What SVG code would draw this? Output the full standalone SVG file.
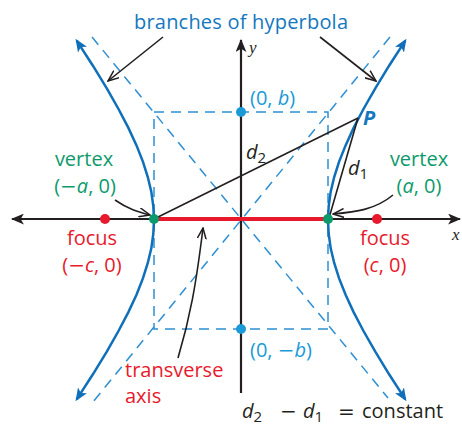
<svg xmlns="http://www.w3.org/2000/svg" width="462" height="425" viewBox="0 0 462 425">
<defs>
<style>
.t{font-family:"Open Sans","Liberation Sans",sans-serif;font-size:20px}
.blue{fill:#1477c0}.cyan{fill:#1a9ad6}.green{fill:#0c9a6c}.red{fill:#e8192c}.blk{fill:#231f20}
.it{font-style:italic}
.op{font-family:"DejaVu Sans",sans-serif;font-size:20px}
.dash{fill:none;stroke:#2e8fd2;stroke-width:1.5;stroke-dasharray:10 7}
.hyp{fill:none;stroke:#0f6fb8;stroke-width:2.5}
.ax{stroke:#231f20;stroke-width:2.2;fill:none}
.thin{stroke:#231f20;stroke-width:1.6;fill:none}
</style>
<marker id="ab" viewBox="0 0 12 10" refX="11" refY="5" markerWidth="13" markerHeight="11" markerUnits="userSpaceOnUse" orient="auto-start-reverse"><path d="M0,0 L12,5 L0,10 L3,5 z" fill="#231f20"/></marker>
<marker id="ah" viewBox="0 0 12 10" refX="10" refY="5" markerWidth="13" markerHeight="11" markerUnits="userSpaceOnUse" orient="auto-start-reverse"><path d="M0,0 L12,5 L0,10 L3,5 z" fill="#0f6fb8"/></marker>
<marker id="ao" viewBox="0 0 12 10" refX="11" refY="5" markerWidth="12" markerHeight="10" markerUnits="userSpaceOnUse" orient="auto"><path d="M0,0.5 L11,5 L0,9.5" fill="none" stroke="#231f20" stroke-width="1.5"/></marker>
</defs>
<g id="asymptotes">
<rect x="154" y="112" width="174" height="217" class="dash"/>
<line x1="92" y1="37" x2="388" y2="398" class="dash"/>
<line x1="390" y1="37" x2="93" y2="402" class="dash"/>
</g>
<g id="axes">
<line x1="241" y1="393" x2="241" y2="40" class="ax" marker-end="url(#ab)"/>
<line x1="12" y1="219" x2="460" y2="219" class="ax" marker-start="url(#ab)" marker-end="url(#ab)"/>
<text x="249" y="53" style="font-family:'Liberation Serif',serif;font-style:italic;font-size:17px" class="blk">y</text>
<text x="452" y="240" style="font-family:'Liberation Serif',serif;font-style:italic;font-size:17px" class="blk">x</text>
</g>
<g id="branch-right">
<path class="hyp" marker-start="url(#ah)" marker-end="url(#ah)" d="M405.3,40.6 L389.1,65.7 L375.3,88.4 L363.5,109 L353.6,127.9 L345.6,145.4 L339.1,161.6 L334.2,177 L330.7,191.7 L328.7,206 L328,220 L328.7,234 L330.7,248.3 L334.2,263 L339.1,278.4 L345.6,294.7 L353.6,312.1 L363.5,331 L375.3,351.6 L389.1,374.3 L405.3,399.4"/>
</g>
<g id="branch-left">
<path class="hyp" marker-start="url(#ah)" marker-end="url(#ah)" d="M76.7,40.6 L92.9,65.7 L106.8,88.4 L118.5,109 L128.4,127.9 L136.5,145.4 L142.9,161.6 L147.8,177 L151.3,191.7 L153.3,206 L154,220 L153.3,234 L151.3,248.3 L147.8,263 L142.9,278.4 L136.5,294.7 L128.4,312.1 L118.5,331 L106.8,351.6 L92.9,374.3 L76.7,399.4"/>
</g>
<g id="transverse-axis">
<line x1="154" y1="219" x2="328" y2="219" stroke="#e8192c" stroke-width="4"/>
</g>
<g id="connectors">
<line x1="154" y1="219" x2="358" y2="118" class="thin"/>
<line x1="358" y1="118" x2="329" y2="218" class="thin"/>
<line x1="163" y1="37" x2="108" y2="81" class="thin" marker-end="url(#ao)"/>
<line x1="320" y1="37" x2="376" y2="81" class="thin" marker-end="url(#ao)"/>
<path d="M115,200 C128,209 138,212 150,215" class="thin" marker-end="url(#ao)"/>
<path d="M393,195 C375,210 355,212 333,214" class="thin" marker-end="url(#ao)"/>
<path d="M178,358 C190,318 196,285 203,228" class="thin" marker-end="url(#ao)"/>
</g>
<g id="points">
<circle cx="105" cy="219" r="5" fill="#e8192c"/>
<circle cx="377" cy="219" r="5" fill="#e8192c"/>
<circle cx="154" cy="219" r="5" fill="#0c9a6c"/>
<circle cx="328" cy="219" r="5" fill="#0c9a6c"/>
<circle cx="241" cy="112" r="5" fill="#1a9ad6"/>
<circle cx="241" cy="329" r="5" fill="#1a9ad6"/>
</g>
<g id="labels">
<text x="241" y="29" text-anchor="middle" class="t blue" textLength="214" lengthAdjust="spacing">branches of hyperbola</text>
<text x="250" y="105" class="t cyan">(0, <tspan class="it">b</tspan>)</text>
<text x="250" y="357" class="t cyan">(0, <tspan class="op">−</tspan><tspan class="it">b</tspan>)</text>
<text x="363" y="125" class="t blue" style="font-weight:bold;font-style:italic">P</text>
<text x="246" y="159" class="t blk"><tspan class="it">d</tspan><tspan font-size="15" dy="4">2</tspan></text>
<text x="348" y="175" class="t blk"><tspan class="it">d</tspan><tspan font-size="15" dy="4">1</tspan></text>
<text x="84" y="166" text-anchor="middle" class="t green">vertex</text>
<text x="85" y="193" text-anchor="middle" class="t green">(<tspan class="op">−</tspan><tspan class="it">a</tspan>, 0)</text>
<text x="419" y="166" text-anchor="middle" class="t green">vertex</text>
<text x="419" y="193" text-anchor="middle" class="t green">(<tspan class="it">a</tspan>, 0)</text>
<text x="92" y="245" text-anchor="middle" class="t red">focus</text>
<text x="92" y="272" text-anchor="middle" class="t red">(<tspan class="op">−</tspan><tspan class="it">c</tspan>, 0)</text>
<text x="385" y="245" text-anchor="middle" class="t red">focus</text>
<text x="385" y="272" text-anchor="middle" class="t red">(<tspan class="it">c</tspan>, 0)</text>
<text x="125" y="377" class="t red">transverse</text>
<text x="125" y="403" class="t red">axis</text>
<text y="418" class="t blk"><tspan x="242" class="it">d</tspan><tspan font-size="15" dy="4">2</tspan><tspan x="280" dy="-4" class="op">−</tspan><tspan x="303" class="it">d</tspan><tspan font-size="15" dy="4">1</tspan><tspan x="338" dy="-4" class="op">=</tspan><tspan x="362">constant</tspan></text>
</g>
</svg>
